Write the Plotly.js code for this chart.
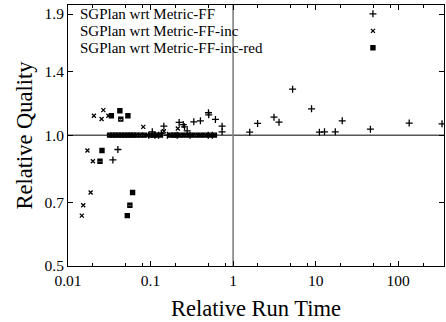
<!DOCTYPE html>
<html>
<head>
<meta charset="utf-8">
<script src="https://cdn.plot.ly/plotly-3.0.1.min.js"></script>
<style>html,body{margin:0;padding:0;background:#fff;}#chart{width:446px;height:322px;}</style>
</head>
<body>
<div id="chart"></div>
<script>
// ---- data ----
const seriesNames = ["SGPlan wrt Metric-FF", "SGPlan wrt Metric-FF-inc", "SGPlan wrt Metric-FF-inc-red"];

const ffTime = [0.035, 0.0402, 0.095, 0.105, 0.113, 0.125, 0.135, 0.145, 0.16, 0.21, 0.222, 0.249, 0.258, 0.278, 0.30, 0.334, 0.402, 0.50, 0.503, 0.507, 0.56, 0.611, 0.736, 0.736, 1.59, 1.98, 3.13, 3.60, 5.26, 8.92, 11.1, 12.8, 17.3, 21.0, 46.1, 136, 340];
const ffQual = [0.877, 0.927, 1.0, 1.018, 1.0, 1.0, 1.01, 1.049, 1.0, 1.0, 1.070, 1.058, 1.045, 1.023, 1.0, 1.073, 1.079, 1.0, 1.126, 1.114, 1.0, 1.087, 1.049, 1.018, 1.016, 1.064, 1.10, 1.071, 1.276, 1.15, 1.016, 1.018, 1.018, 1.079, 1.032, 1.066, 1.062];

const incTime = [0.0147, 0.0153, 0.0172, 0.0188, 0.020, 0.0206, 0.0255, 0.0268, 0.0308, 0.035, 0.045, 0.055, 0.0816, 0.09, 0.12, 0.145, 0.19, 0.214, 0.25, 0.4];
const incQual = [0.653, 0.690, 0.922, 0.738, 0.871, 1.108, 1.089, 1.142, 1.108, 1.0, 1.0, 1.0, 1.045, 1.0, 1.0, 1.021, 1.0, 1.036, 1.0, 1.0];

const redTime = [0.0244, 0.0258, 0.0335, 0.0425, 0.0436, 0.0523, 0.0532, 0.0562, 0.0606,
  0.0319, 0.0347, 0.0378, 0.0410, 0.0446, 0.0485, 0.0527, 0.0573, 0.0623, 0.0677, 0.0757, 0.0845, 0.100, 0.109, 0.118, 0.132, 0.175, 0.190, 0.206, 0.230, 0.265, 0.305, 0.350, 0.402, 0.462, 0.532, 0.594];
const redQual = [0.871, 0.922, 1.108, 1.138, 1.089, 0.653, 1.108, 0.690, 0.738,
  1.0, 1.0, 1.0, 1.0, 1.0, 1.0, 1.0, 1.0, 1.0, 1.0, 1.0, 1.0, 1.0, 1.0, 1.0, 1.0, 1.0, 1.0, 1.0, 1.0, 1.0, 1.0, 1.0, 1.0, 1.0, 1.0, 1.0];

const xTickVals = [0.01, 0.1, 1, 10, 100];
const xTickText = ["0.01", "0.1", "1", "10", "100"];
const xMinorVals = [0.02, 0.05, 0.08, 0.2, 0.5, 0.8, 2, 5, 8, 20, 50, 80, 200];
const yTickVals = [0.5, 0.7, 1.0, 1.4, 1.9];
const yTickText = ["0.5", "0.7", "1.0", "1.4", "1.9"];
const refTime = 1;
const refQual = 1;
const xRange = [0.01, 359];
const yRange = [0.5, 1.993];

// ---- styles ----
const FONT = "Liberation Serif, Times New Roman, serif";
const markerStyles = [
  {symbol: "cross-thin-open", size: 5, color: "#000", line: {color: "#000", width: 1.3}},
  {symbol: "x-thin-open", size: 4, color: "#000", line: {color: "#000", width: 1.3}},
  {symbol: "square-x-open", size: 4, color: "#000", line: {color: "#000", width: 1.4}}
];
const legendPos = {textX: 0.028, symX: 0.811, rowsY: [0.966, 0.901, 0.836]};

const seriesX = [ffTime, incTime, redTime];
const seriesY = [ffQual, incQual, redQual];

const traces = [];
// reference lines
traces.push({x: [xRange[0], xRange[1]], y: [refQual, refQual], mode: "lines", line: {color: "#000", width: 1}, hoverinfo: "skip", showlegend: false});
traces.push({x: [refTime, refTime], y: [yRange[0], yRange[1]], mode: "lines", line: {color: "#808080", width: 1.6}, hoverinfo: "skip", showlegend: false});

seriesX.forEach((xs, i) => {
  traces.push({x: xs, y: seriesY[i], mode: "markers", name: seriesNames[i], marker: markerStyles[i], showlegend: false, cliponaxis: true});
});

// legend samples on an overlay axis
const annotations = [];
seriesNames.forEach((n, i) => {
  traces.push({x: [legendPos.symX], y: [legendPos.rowsY[i]], xaxis: "x2", yaxis: "y2", mode: "markers", marker: markerStyles[i], showlegend: false, hoverinfo: "skip"});
  annotations.push({xref: "paper", yref: "paper", x: legendPos.textX, y: legendPos.rowsY[i], xanchor: "left", yanchor: "middle", text: n, showarrow: false, borderpad: 0, font: {family: FONT, size: 15, color: "#000"}});
});

const axisCommon = {
  type: "log", showline: true, linecolor: "#000", linewidth: 1, mirror: "ticks",
  ticks: "inside", tickcolor: "#000", tickwidth: 1, ticklen: 5, showgrid: false, zeroline: false,
  tickfont: {family: FONT, size: 15.5, color: "#000"}, tickmode: "array"
};

const layout = {
  width: 446, height: 322,
  margin: {l: 68, r: 2, t: 5, b: 56, pad: 0},
  paper_bgcolor: "#fff", plot_bgcolor: "#fff",
  showlegend: false,
  xaxis: Object.assign({}, axisCommon, {
    range: [Math.log10(xRange[0]), Math.log10(xRange[1])],
    tickvals: xTickVals, ticktext: xTickText,
    minor: {tickmode: "array", tickvals: xMinorVals, ticks: "inside", ticklen: 3, tickcolor: "#000", tickwidth: 1, showgrid: false},
    title: {text: "Relative Run Time", font: {family: FONT, size: 22.5, color: "#000"}, standoff: 12}
  }),
  yaxis: Object.assign({}, axisCommon, {
    range: [Math.log10(yRange[0]), Math.log10(yRange[1])],
    tickvals: yTickVals, ticktext: yTickText,
    title: {text: "Relative Quality", font: {family: FONT, size: 22.5, color: "#000"}, standoff: 5}
  }),
  xaxis2: {overlaying: "x", range: [0, 1], visible: false, fixedrange: true},
  yaxis2: {overlaying: "y", range: [0, 1], visible: false, fixedrange: true},
  annotations: annotations
};

Plotly.newPlot("chart", traces, layout, {staticPlot: true, displayModeBar: false});
</script>
</body>
</html>
